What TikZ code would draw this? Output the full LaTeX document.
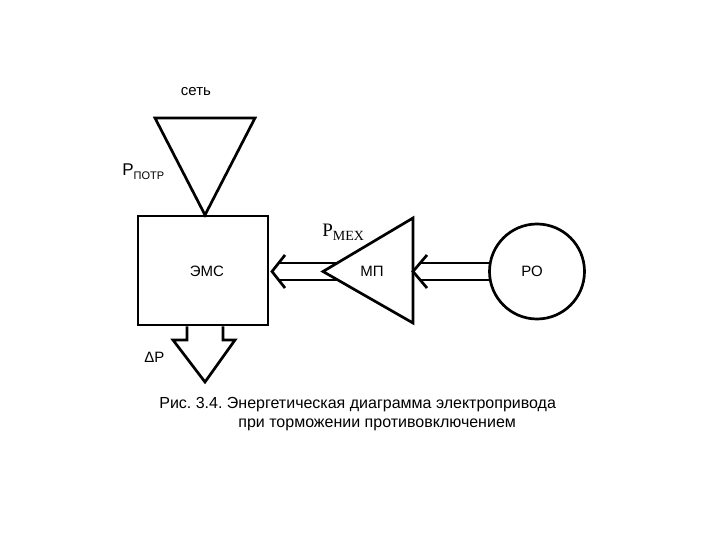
\documentclass[tikz,border=0pt]{standalone}
\usepackage{fontspec}
\setmainfont{Liberation Sans}
\newfontfamily\timesfont{Liberation Serif}
\frenchspacing

\begin{document}
\begin{tikzpicture}[x=1pt,y=-1pt,line width=2.7pt]
\tikzset{
  lbl/.style={inner sep=0pt,font=\fontsize{15}{18}\selectfont},
  captext/.style={inner sep=0pt,anchor=west,font=\fontsize{16}{19}\selectfont}
}
\useasboundingbox (0,0) rectangle (720,540);
% energy blocks
\node[draw,lbl,minimum width=130pt,minimum height=109pt] (ems) at (203,270.5) {};
\node[lbl] (emsL) at (207,271) {ЭМС};
\node[draw,circle,minimum size=95pt,inner sep=0pt] (ro) at (537,271.5) {};
\node[lbl] (roL) at (532,271) {РО};
\coordinate (netL) at (155,118);
\coordinate (netR) at (255,118);
\coordinate (netA) at (205,215);
\draw (netL) -- (netR) -- (netA) -- cycle;
\coordinate (mpA) at (323,271.5);
\coordinate (mpT) at (413,218);
\coordinate (mpB) at (413,323);
\coordinate (mpR) at (413,271.5);
\draw (mpA) -- (mpT) -- (mpB) -- cycle;
\node[lbl] (mpL) at (372,271) {МП};
% double arrows
\coordinate (emsTip) at (272,271.5);
\foreach \dy in {-8.5,8.5} {
  \draw ([shift={(0.5,\dy)}]ro.west) -- ([shift={(7,\dy)}]mpR);
  \draw ([shift={(7,\dy)}]emsTip) -- ([shift={(14.5,\dy)}]mpA);
}
\draw ([shift={(14,-16.5)}]mpR) -- (mpR) -- ([shift={(14,16.5)}]mpR);
\draw ([shift={(13,-16.5)}]emsTip) -- (emsTip) -- ([shift={(13,16.5)}]emsTip);
% loss arrow
\draw (187,0 |- ems.south) -- (187,340) -- (173,340) -- (205,382) -- (235,340) -- (223,340) -- (223,0 |- ems.south);
% labels
\node[lbl] (net) at (196,92) {сеть};
\node[lbl,anchor=west,font=\fontsize{17}{18}\selectfont] (pin) at (121,172) {P\raisebox{-4pt}{\fontsize{11}{11}\selectfont ПОТР}};
\node[lbl,anchor=west,font=\timesfont\fontsize{19}{20}\selectfont] (pmex) at (321,232) {P\raisebox{-4pt}{\fontsize{14}{14}\selectfont MEX}};
\node[lbl,anchor=west] (dp) at (143,357) {ΔP};
\node[captext] (cap1) at (158,405) {Рис. 3.4. Энергетическая диаграмма электропривода};
\node[captext] (cap2) at (237,425) {при торможении противовключением};
\end{tikzpicture}
\end{document}
